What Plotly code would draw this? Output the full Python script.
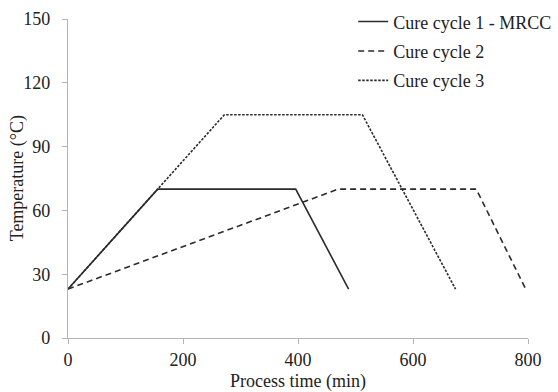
import plotly.graph_objects as go

# Cure cycle profiles: process time (min) vs temperature (°C)
cycle1_time = [0, 156, 396, 488]
cycle1_temp = [23, 70, 70, 23]

cycle2_time = [0, 470, 710, 796]
cycle2_temp = [23, 70, 70, 23]

cycle3_time = [0, 272, 512, 674]
cycle3_temp = [23, 105, 105, 23]

series_names = ["Cure cycle 1 - MRCC", "Cure cycle 2", "Cure cycle 3"]

x_ticks = [0, 200, 400, 600, 800]
y_ticks = [0, 30, 60, 90, 120, 150]

x_title = "Process time (min)"
y_title = "Temperature (°C)"

FONT = "Liberation Serif, Times New Roman, DejaVu Serif, serif"
FS = 18
LINE_COLOR = "#2b2b2b"
AXIS_COLOR = "#b4b4b4"
TXT = "#222222"

fig = go.Figure()
fig.add_trace(go.Scatter(x=cycle1_time, y=cycle1_temp, mode="lines", name=series_names[0],
                         legendgroup="a",
                         line=dict(color=LINE_COLOR, width=1.6, dash="solid")))
fig.add_trace(go.Scatter(x=cycle2_time, y=cycle2_temp, mode="lines", name=series_names[1],
                         legendgroup="b",
                         line=dict(color=LINE_COLOR, width=1.6, dash="6px,4px")))
fig.add_trace(go.Scatter(x=cycle3_time, y=cycle3_temp, mode="lines", name=series_names[2],
                         legendgroup="c",
                         line=dict(color=LINE_COLOR, width=1.6, dash="2.5px,1.5px")))

fig.update_layout(
    width=558, height=392,
    margin=dict(l=68, r=30, t=19, b=54, autoexpand=False),
    paper_bgcolor="white", plot_bgcolor="white",
    font=dict(family=FONT, size=FS, color=TXT),
    showlegend=True,
    legend=dict(x=0.62, y=1.049, xanchor="left", yanchor="top",
                bgcolor="rgba(0,0,0,0)", font=dict(family=FONT, size=FS, color=TXT),
                tracegroupgap=3, itemwidth=30),
    xaxis=dict(range=[0, 800], tickvals=x_ticks, showgrid=False, zeroline=False,
               showline=True, linecolor=AXIS_COLOR, linewidth=1.2,
               ticks="outside", ticklen=5, tickcolor=AXIS_COLOR, tickwidth=1.2,
               tickfont=dict(family=FONT, size=FS, color=TXT),
               title=dict(text=x_title, standoff=6,
                          font=dict(family=FONT, size=FS, color=TXT))),
    yaxis=dict(range=[0, 150], tickvals=y_ticks, showgrid=False, zeroline=False,
               showline=True, linecolor=AXIS_COLOR, linewidth=1.2,
               ticks="outside", ticklen=5, tickcolor=AXIS_COLOR, tickwidth=1.2,
               ticklabelstandoff=8,
               tickfont=dict(family=FONT, size=FS, color=TXT)),
    annotations=[dict(text=y_title, xref="paper", yref="paper",
                      x=-0.109, y=0.5, xanchor="center", yanchor="middle",
                      textangle=-90, showarrow=False,
                      font=dict(family=FONT, size=FS, color=TXT))],
)

fig.write_html("out.html")
